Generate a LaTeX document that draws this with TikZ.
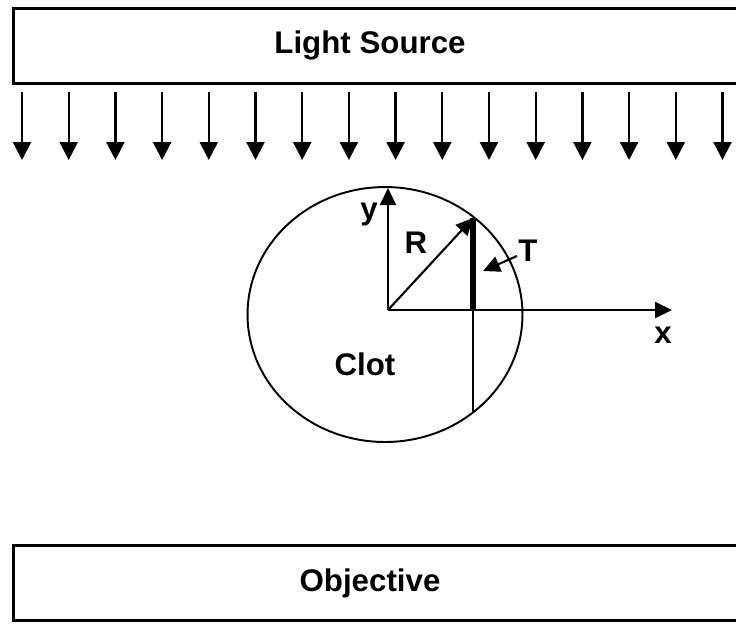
\documentclass[tikz,border=0pt]{standalone}
\usepackage{fontspec}
\setmainfont{Liberation Sans}
\usetikzlibrary{arrows.meta, shapes.geometric}
\tikzset{
    % Boxes for source and objective
    plate/.style={
        rectangle,
        draw=black,
        line width=1.6pt,
        minimum width=15.2cm,
        minimum height=1.5cm,
        anchor=west,
        inner sep=0pt
    },
    label text/.style={
        font=\fontsize{17.8}{20}\selectfont\bfseries,
        inner sep=0pt
    },
    ray/.style={
        -{Triangle[length=0.36cm, width=0.36cm]},
        line width=1.3pt
    },
    axis/.style={
        -{Triangle[length=0.34cm, width=0.32cm]},
        line width=1.2pt
    }
}

\begin{document}
\begin{tikzpicture}[x=0.02cm, y=-0.02cm]
        \clip (0,0) rectangle (736,623);
        \fill[white] (0,0) rectangle (736,623);

        % Light source at top
        \node[plate] (source) at (12,46) {};
        \node[label text] (source text) at (370,45) {Light Source};

        % Rays
        \foreach \i in {0,...,15} {
            \coordinate (ray top \i) at (22+46.7*\i, 92);
            \coordinate (ray tip \i) at (22+46.7*\i, 160);
            \draw[ray] (ray top \i) -- (ray tip \i);
        }

        % Clot
        \node[ellipse, draw, line width=1.1pt, minimum width=5.5cm, minimum height=5.1cm, inner sep=0pt] (clot) at (385,314.5) {};
        \node[label text] (clot text) at (365,364) {Clot};

        % Axes
        \coordinate (O) at (388,310);
        \coordinate (y end) at (388,188);
        \coordinate (x end) at (672,310);
        \draw[axis] (O) -- (y end);
        \draw[axis] (O) -- (x end);
        \node[label text] (y label) at (369,214) {y};
        \node[label text] (x label) at (663,335) {x};

        % Radius and thickness
        \coordinate (rim) at (473,218);
        \coordinate (foot) at (473,310);
        \coordinate (chord end) at (473,413);
        \draw[axis] (O) -- (rim);
        \node[label text] (R label) at (416,243) {R};
        \draw[line width=1.2pt] (foot) -- (chord end);
        \draw[line width=3.6pt] (foot) -- (rim);
        \coordinate (T start) at (517,256);
        \coordinate (T tip) at (483,271);
        \draw[axis] (T start) -- (T tip);
        \node[label text] (T label) at (528,251) {T};

        % Objective at bottom
        \node[plate] (objective) at (12,583) {};
        \node[label text] (objective text) at (370,583) {Objective};
    \end{tikzpicture}
\end{document}
